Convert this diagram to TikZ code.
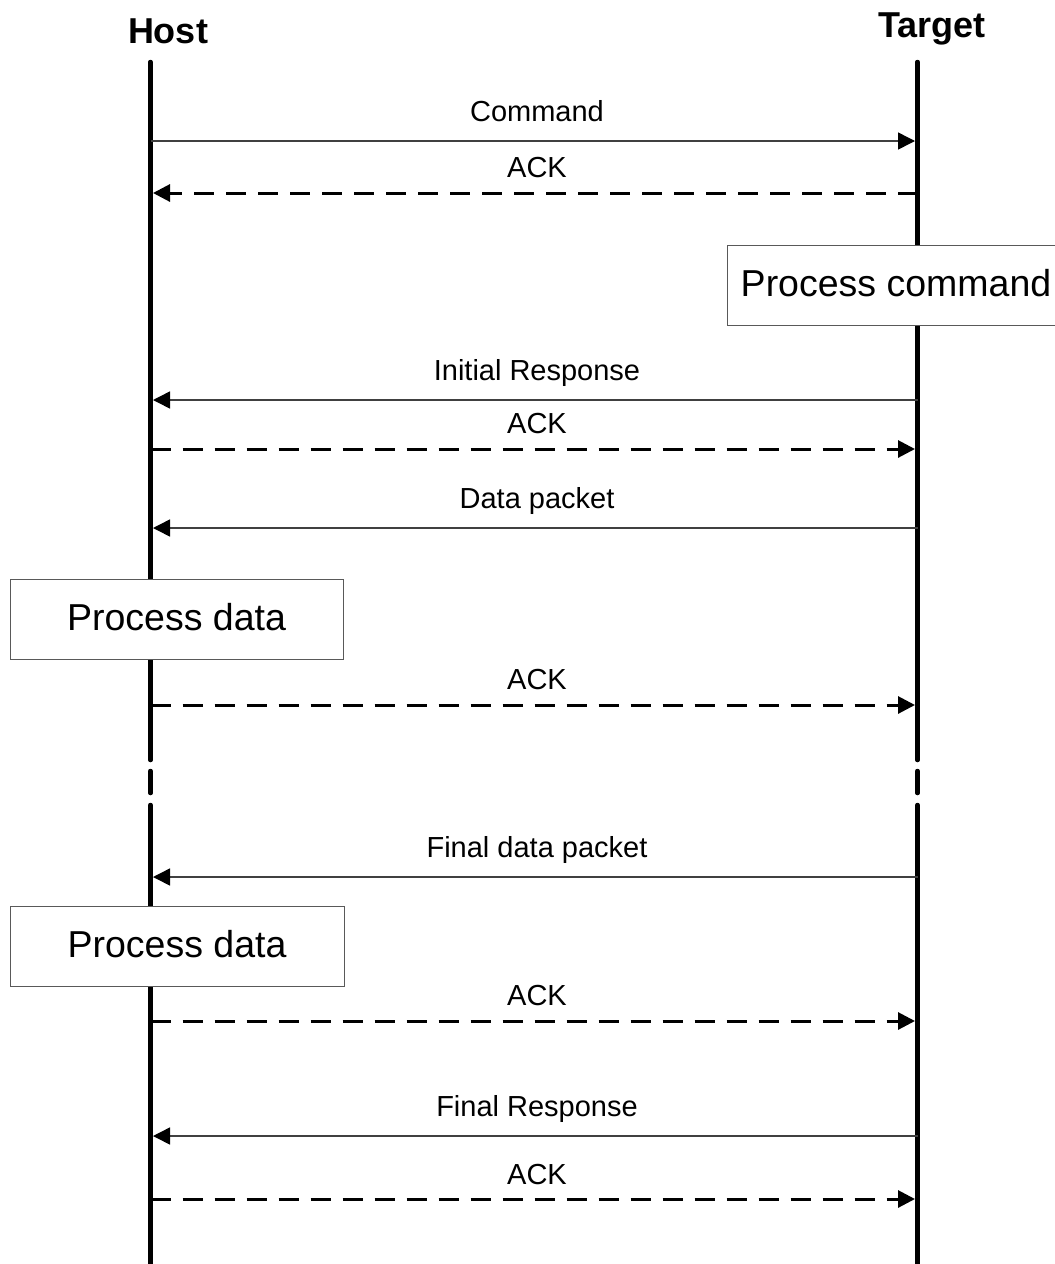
\documentclass[tikz,border=0pt]{standalone}
\usepackage{fontspec}
\setmainfont{Liberation Sans}
\usetikzlibrary{arrows.meta}
\begin{document}
\begin{tikzpicture}[x=1pt,y=-1pt,
  lifeline/.style={line width=4.5pt, line cap=round},
  msg/.style={line width=1.5pt, draw=black!75, -{Triangle[length=17pt,width=17pt,fill=black,color=black]}, shorten >=2.5pt},
  ackmsg/.style={line width=3pt, dash pattern=on 20pt off 12pt, -{Triangle[length=17pt,width=17pt]}, shorten >=2.5pt},
  lbl/.style={font=\fontsize{29}{31}\selectfont, anchor=base, inner sep=0pt, xshift=3pt},
  head/.style={font=\fontsize{36}{40}\selectfont\bfseries, anchor=base, inner sep=0pt},
  pbox/.style={draw=black!65, line width=1pt, fill=white, font=\fontsize{37.5}{40}\selectfont,
    text height=27pt, text depth=5pt, inner sep=0pt, minimum height=80pt}
]
\useasboundingbox (0,0) rectangle (1055,1264);
% headers
\node[head] (host) at (168,43) {Host};
\node[head] (target) at (932,37) {Target};
% lifeline coordinates
\coordinate (hA) at (150.5,62);  \coordinate (hB) at (150.5,760);
\coordinate (hC) at (150.5,771); \coordinate (hD) at (150.5,793);
\coordinate (hE) at (150.5,805); \coordinate (hF) at (150.5,1275);
\coordinate (tA) at (917.5,62);  \coordinate (tB) at (917.5,760);
\coordinate (tC) at (917.5,771); \coordinate (tD) at (917.5,793);
\coordinate (tE) at (917.5,805); \coordinate (tF) at (917.5,1275);
\draw[lifeline] (hA) -- (hB) (hC) -- (hD) (hE) -- (hF);
\draw[lifeline] (tA) -- (tB) (tC) -- (tD) (tE) -- (tF);
% message points
\foreach \n/\y in {1/141,2/193,3/400,4/449,5/528,6/705,7/877,8/1021,9/1136,10/1199}{
  \coordinate (h\n) at (150.5,\y);
  \coordinate (t\n) at (917.5,\y);
}
% process boxes
\node[pbox, minimum width=338pt] (pcmd) at (896,285) {Process command};
\node[pbox, minimum width=333pt] (pd1) at (176.5,619) {Process data};
\node[pbox, minimum width=334pt] (pd2) at (177,946.5) {Process data};
% messages
\draw[msg] (h1) -- (t1) node[lbl, midway, yshift=20pt] {Command};
\draw[ackmsg] (t2) -- (h2) node[lbl, midway, yshift=16pt] {ACK};
\draw[msg] (t3) -- (h3) node[lbl, midway, yshift=20pt] {Initial Response};
\draw[ackmsg] (h4) -- (t4) node[lbl, midway, yshift=16pt] {ACK};
\draw[msg] (t5) -- (h5) node[lbl, midway, yshift=20pt] {Data packet};
\draw[ackmsg] (h6) -- (t6) node[lbl, midway, yshift=16pt] {ACK};
\draw[msg] (t7) -- (h7) node[lbl, midway, yshift=20pt] {Final data packet};
\draw[ackmsg] (h8) -- (t8) node[lbl, midway, yshift=16pt] {ACK};
\draw[msg] (t9) -- (h9) node[lbl, midway, yshift=20pt] {Final Response};
\draw[ackmsg] (h10) -- (t10) node[lbl, midway, yshift=15pt] {ACK};
\end{tikzpicture}
\end{document}
